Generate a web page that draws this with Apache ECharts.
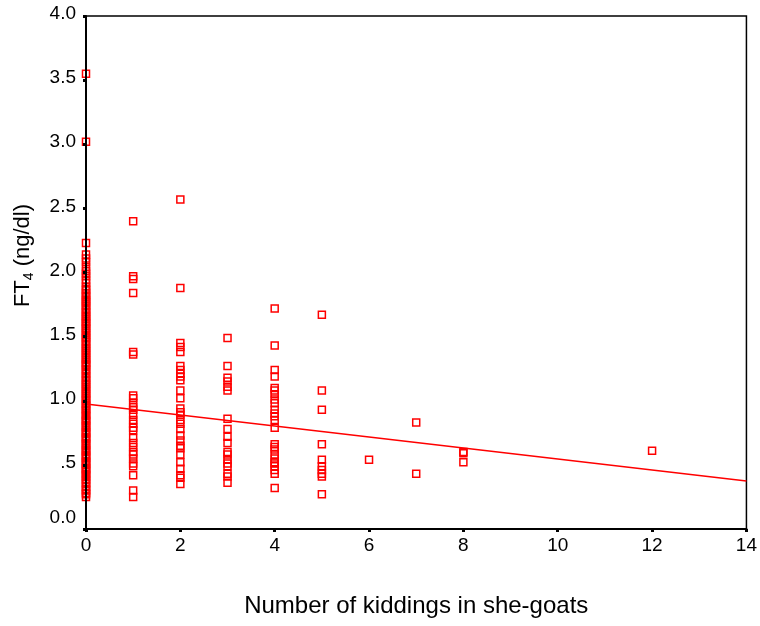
<!DOCTYPE html>
<html>
<head>
<meta charset="utf-8">
<script src="https://cdn.jsdelivr.net/npm/echarts@6/dist/echarts.min.js"></script>
<style>html,body{margin:0;padding:0;background:#fff}#c{width:760px;height:626px}</style>
</head>
<body>
<div id="c"></div>
<script>
// Number of kiddings (x categories present in the data)
const kiddingCounts = [0, 1, 2, 3, 4, 5, 6, 7, 8, 12];

// FT4 (ng/dl) values per kidding count (x = 0 is a dense, overlapping band)
const ft4At0 = [3.55, 3.02, 2.23, 2.14, 2.11, 2.08, 2.04, 2.01, 1.99, 1.97, 1.94, 1.92, 1.89, 1.87, 1.86, 1.84, 1.82, 1.81, 1.79, 1.78, 1.77, 1.75, 1.74, 1.72, 1.71, 1.69, 1.68, 1.66, 1.65, 1.64, 1.62, 1.61, 1.60, 1.58, 1.57, 1.56, 1.54, 1.53, 1.51, 1.50, 1.49, 1.47, 1.46, 1.44, 1.43, 1.41, 1.40, 1.39, 1.37, 1.36, 1.34, 1.33, 1.32, 1.30, 1.29, 1.28, 1.27, 1.25, 1.24, 1.22, 1.21, 1.19, 1.18, 1.16, 1.15, 1.13, 1.12, 1.11, 1.09, 1.08, 1.06, 1.05, 1.04, 1.02, 1.01, 1.00, 0.98, 0.97, 0.96, 0.94, 0.93, 0.92, 0.90, 0.89, 0.88, 0.86, 0.85, 0.84, 0.83, 0.81, 0.80, 0.79, 0.77, 0.76, 0.75, 0.74, 0.72, 0.71, 0.70, 0.69, 0.67, 0.66, 0.65, 0.63, 0.62, 0.61, 0.60, 0.58, 0.57, 0.56, 0.55, 0.53, 0.52, 0.51, 0.50, 0.48, 0.47, 0.46, 0.45, 0.43, 0.42, 0.41, 0.39, 0.38, 0.36, 0.35, 0.33, 0.31, 0.30, 0.28, 0.27, 0.25];
const ft4At1 = [2.40, 1.97, 1.95, 1.84, 1.38, 1.36, 1.04, 1.02, 0.98, 0.95, 0.93, 0.89, 0.85, 0.82, 0.79, 0.77, 0.71, 0.67, 0.64, 0.60, 0.58, 0.55, 0.51, 0.49, 0.42, 0.30, 0.25];
const ft4At2 = [2.57, 1.88, 1.45, 1.42, 1.38, 1.27, 1.24, 1.21, 1.19, 1.16, 1.08, 1.02, 0.94, 0.91, 0.89, 0.85, 0.82, 0.78, 0.73, 0.69, 0.65, 0.63, 0.58, 0.52, 0.47, 0.42, 0.40, 0.35];
const ft4At3 = [1.49, 1.27, 1.18, 1.15, 1.11, 1.08, 0.86, 0.78, 0.72, 0.67, 0.60, 0.58, 0.54, 0.51, 0.49, 0.43, 0.41, 0.36];
const ft4At4 = [1.72, 1.43, 1.24, 1.19, 1.10, 1.08, 1.05, 1.01, 0.98, 0.93, 0.90, 0.88, 0.85, 0.79, 0.66, 0.64, 0.62, 0.58, 0.55, 0.52, 0.51, 0.49, 0.46, 0.43, 0.32];
const ft4At5 = [1.67, 1.08, 0.93, 0.66, 0.54, 0.49, 0.46, 0.43, 0.41, 0.27];
const ft4At6 = [0.54];
const ft4At7 = [0.83, 0.43];
const ft4At8 = [0.60, 0.59, 0.52];
const ft4At12 = [0.61];
const ft4Groups = [ft4At0, ft4At1, ft4At2, ft4At3, ft4At4, ft4At5, ft4At6, ft4At7, ft4At8, ft4At12];

// Linear fit line end points [x, y]
const fitStart = [0, 0.974];
const fitEnd = [14, 0.374];

// Tick labels
const yTickValues = [0, 0.5, 1, 1.5, 2, 2.5, 3, 3.5, 4];
const yTickLabels = ['0.0', '.5', '1.0', '1.5', '2.0', '2.5', '3.0', '3.5', '4.0'];
const xTickValues = [0, 2, 4, 6, 8, 10, 12, 14];

const points = [];
kiddingCounts.forEach((k, i) => ft4Groups[i].forEach(v => points.push([k, v])));

const chart = echarts.init(document.getElementById('c'), null, {renderer: 'canvas'});
const font = 'Liberation Sans, Arial, sans-serif';
chart.setOption({
  animation: false,
  backgroundColor: '#fff',
  grid: {left: 86, right: 13, top: 16, bottom: 97, show: true, borderColor: '#000', borderWidth: 1.5, backgroundColor: 'transparent'},
  xAxis: {
    type: 'value', min: 0, max: 14, interval: 2, z: 5,
    name: 'Number of kiddings in she-goats', nameLocation: 'middle', nameGap: 65,
    nameTextStyle: {fontFamily: font, fontSize: 24, color: '#000'},
    axisLine: {show: true, onZero: false, lineStyle: {color: '#000', width: 2}},
    axisTick: {show: true, length: 3, lineStyle: {color: '#000', width: 3}},
    axisLabel: {fontFamily: font, fontSize: 19, color: '#000', margin: 7},
    splitLine: {show: false}
  },
  yAxis: {
    type: 'value', min: 0, max: 4, interval: 0.5, z: 5,
    name: '{a|FT}{s|4}{a| (ng/dl)}', nameLocation: 'middle', nameGap: 50, nameRotate: 90,
    nameTextStyle: {
      fontFamily: font, fontSize: 22, color: '#000', padding: [0, 0, 0, 34],
      rich: {
        a: {fontFamily: font, fontSize: 22, color: '#000', lineHeight: 26, verticalAlign: 'middle'},
        s: {fontFamily: font, fontSize: 14, color: '#000', lineHeight: 26, verticalAlign: 'bottom', padding: [10, 0, 0, 0]}
      }
    },
    axisLine: {show: true, onZero: false, lineStyle: {color: '#000', width: 2}},
    axisTick: {show: true, length: 3, lineStyle: {color: '#000', width: 3}},
    axisLabel: {
      fontFamily: font, fontSize: 19, color: '#000', margin: 10,
      formatter: function (v) {
        const i = yTickValues.indexOf(v);
        const t = i >= 0 ? yTickLabels[i] : '';
        return v === 0 ? '{z|' + t + '}' : '{n|' + t + '}';
      },
      rich: {
        z: {fontFamily: font, fontSize: 19, color: '#000', padding: [0, 0, 22, 0]},
        n: {fontFamily: font, fontSize: 19, color: '#000', padding: [0, 0, 4, 0]}
      }
    },
    splitLine: {show: false}
  },
  series: [
    {
      type: 'scatter', data: points, symbol: 'rect', symbolSize: 7, clip: false,
      itemStyle: {color: 'rgba(255,255,255,0)', borderColor: '#ff0000', borderWidth: 1.5, opacity: 1},
      z: 2
    },
    {
      type: 'line', data: [fitStart, fitEnd], showSymbol: false, symbol: 'none',
      lineStyle: {color: '#ff0000', width: 1.5}, z: 3
    }
  ]
});
</script>
</body>
</html>
